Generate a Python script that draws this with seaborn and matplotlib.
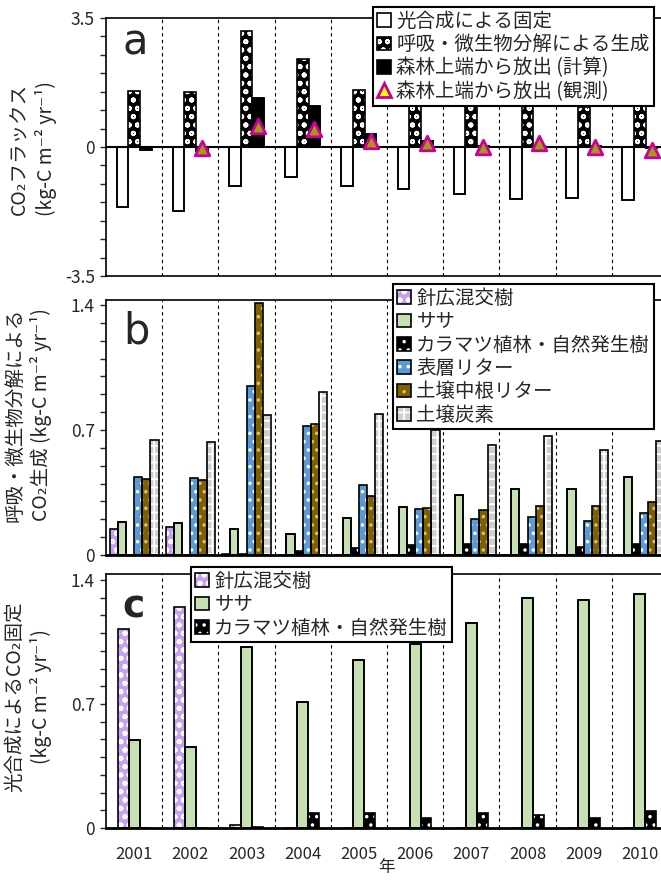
import numpy as np
import pandas as pd
import matplotlib
matplotlib.use('Agg')
import matplotlib.pyplot as plt
from matplotlib.patches import Patch, Rectangle
from matplotlib.lines import Line2D
from matplotlib.ticker import MultipleLocator, FixedLocator
import seaborn as sns

# 年
years = ['2001', '2002', '2003', '2004', '2005', '2006', '2007', '2008', '2009', '2010']

# a: CO2フラックス
photo_a = [-1.64, -1.73, -1.06, -0.81, -1.06, -1.13, -1.27, -1.41, -1.38, -1.45]
resp_a = [1.51, 1.49, 3.14, 2.39, 1.54, 1.29, 1.12, 1.22, 1.09, 1.22]
calc_a = [-0.07, -0.10, 1.33, 1.12, 0.36, 0.15, 0.02, 0.03, 0.02, -0.02]
obs_a = [np.nan, -0.04, 0.56, 0.50, 0.15, 0.10, 0.0, 0.10, 0.0, -0.07]
labels_a = ['光合成による固定', '呼吸・微生物分解による生成', '森林上端から放出 (計算)']
label_obs = '森林上端から放出 (観測)'

# b: 呼吸・微生物分解によるCO2生成
conifer_b = [0.146, 0.159, 0.005, 0, 0, 0, 0, 0, 0, 0]
sasa_b = [0.187, 0.177, 0.146, 0.116, 0.205, 0.267, 0.334, 0.371, 0.368, 0.439]
larch_b = [0, 0, 0.005, 0.022, 0.037, 0.056, 0.060, 0.060, 0.047, 0.060]
surface_b = [0.439, 0.433, 0.948, 0.722, 0.392, 0.258, 0.200, 0.211, 0.192, 0.235]
root_b = [0.424, 0.418, 1.410, 0.732, 0.330, 0.263, 0.250, 0.272, 0.272, 0.297]
soil_b = [0.646, 0.631, 0.782, 0.911, 0.791, 0.698, 0.618, 0.666, 0.588, 0.637]
labels_b = ['針広混交樹', 'ササ', 'カラマツ植林・自然発生樹', '表層リター', '土壌中根リター', '土壌炭素']

# c: 光合成によるCO2固定
conifer_c = [1.122, 1.250, 0.015, 0, 0, 0, 0, 0, 0, 0]
sasa_c = [0.496, 0.459, 1.020, 0.710, 0.951, 1.040, 1.160, 1.297, 1.288, 1.323]
larch_c = [0, 0, 0.004, 0.086, 0.083, 0.055, 0.083, 0.073, 0.055, 0.098]
labels_c = labels_b[:3]

sns.set_style('white')
plt.rcParams['font.family'] = ['Noto Sans CJK JP', 'DejaVu Sans']
plt.rcParams['hatch.linewidth'] = 1.3

# 各系列のスタイル (塗り, ハッチ, ハッチ色)
styles = {
    '光合成による固定': ('white', None, None),
    '呼吸・微生物分解による生成': ('black', 'oo', 'white'),
    '森林上端から放出 (計算)': ('black', None, None),
    '針広混交樹': ('#c7a0f2', 'oo', 'white'),
    'ササ': ('#c6e0b4', None, None),
    'カラマツ植林・自然発生樹': ('black', '..', 'white'),
    '表層リター': ('#5b9bd5', '..', 'white'),
    '土壌中根リター': ('#7f6000', '..', '#d9c06a'),
    '土壌炭素': ('#cfcfcf', '++', 'white'),
}


def long_df(series, labels):
    rows = []
    for vals, lab in zip(series, labels):
        for y, v in zip(years, vals):
            rows.append({'year': y, 'series': lab, 'value': v})
    return pd.DataFrame(rows)


def style_bars(ax, container, label):
    face, hatch, hcol = styles[label]
    for bar in container:
        bar.set_facecolor(face)
        if hatch:
            bar.set_hatch(hatch)
            bar.set_edgecolor(hcol)
            bar.set_linewidth(0)
        else:
            bar.set_edgecolor('black')
            bar.set_linewidth(1.2)
        ax.add_patch(Rectangle(bar.get_xy(), bar.get_width(), bar.get_height(),
                               fill=False, ec='black', lw=1.2, zorder=bar.get_zorder() + 0.1))


def handle(label):
    face, hatch, hcol = styles[label]
    if hatch:
        return (Patch(fc=face, hatch=hatch, ec=hcol, lw=0), Patch(fill=False, ec='black', lw=1.2))
    return Patch(fc=face, ec='black', lw=1.2)


def draw_panel(ax, series, labels, width):
    df = long_df(series, labels)
    sns.barplot(data=df, x='year', y='value', hue='series', hue_order=labels,
                width=width, ax=ax, legend=False, saturation=1, color='white')
    for cont, lab in zip(ax.containers, labels):
        style_bars(ax, cont, lab)
    for i in range(len(years) - 1):
        ax.axvline(i + 0.5, color='black', ls=(0, (3, 3)), lw=0.8, zorder=0)
    ax.set_xlim(-0.5, len(years) - 0.5)
    ax.set_xlabel('')
    ax.set_ylabel('')
    ax.tick_params(axis='x', length=0, labelsize=12, pad=13)
    ax.tick_params(axis='y', which='both', direction='out', length=4, width=1,
                   left=True, labelsize=12.5, pad=4)
    for s in ['left', 'top', 'bottom']:
        ax.spines[s].set_color('black')
        ax.spines[s].set_linewidth(1.2)
    ax.spines['right'].set_visible(False)


def legend_kw():
    return dict(frameon=True, fancybox=False, edgecolor='black', framealpha=1,
                fontsize=14, handlelength=0.7, handleheight=0.7, handletextpad=0.3,
                labelspacing=0.12, borderpad=0.2, borderaxespad=0)


fig = plt.figure(figsize=(6.61, 8.82), dpi=100)
W, H = 661, 882
AX_W = 562
ax_a = fig.add_axes([106 / W, 1 - 276 / H, AX_W / W, 258 / H])
ax_b = fig.add_axes([106 / W, 1 - 555 / H, AX_W / W, 255 / H])
ax_c = fig.add_axes([106 / W, 1 - 828 / H, AX_W / W, 254 / H])

# a
draw_panel(ax_a, [photo_a, resp_a, calc_a], labels_a, 0.62)
xs = [b.get_x() + b.get_width() / 2 for b in ax_a.containers[2]]
ax_a.scatter(xs, obs_a, marker='^', s=110, facecolor='#a39c10', edgecolor='#cc0099',
             linewidth=2, zorder=6)
ax_a.axhline(0, color='black', lw=1.5, zorder=5)
ax_a.set_ylim(-3.5, 3.5)
ax_a.yaxis.set_major_locator(FixedLocator([-3.5, 0, 3.5]))
ax_a.set_yticklabels(['-3.5', '0', '3.5'])
ax_a.yaxis.set_minor_locator(MultipleLocator(0.5))
ax_a.set_xticklabels([])
ax_a.text(0.03, 0.86, 'a', transform=ax_a.transAxes, fontsize=30, family='DejaVu Sans')
h_a = [handle(l) for l in labels_a] + [Line2D([], [], marker='^', ls='', mfc='yellow',
                                                mec='#cc0099', mew=2, ms=10)]
leg = ax_a.legend(h_a, labels_a + [label_obs], loc='upper left',
                  bbox_to_anchor=(373 / W, 1 - 7 / H), bbox_transform=fig.transFigure,
                  **legend_kw())
leg.get_frame().set_linewidth(1.5)

# b
draw_panel(ax_b, [conifer_b, sasa_b, larch_b, surface_b, root_b, soil_b], labels_b, 0.87)
ax_b.set_ylim(0, 1.428)
ax_b.yaxis.set_major_locator(FixedLocator([0, 0.7, 1.4]))
ax_b.set_yticklabels(['0', '0.7', '1.4'])
ax_b.yaxis.set_minor_locator(MultipleLocator(0.1))
ax_b.spines['bottom'].set_linewidth(2)
ax_b.set_xticklabels([])
ax_b.text(0.03, 0.83, 'b', transform=ax_b.transAxes, fontsize=30, family='DejaVu Sans')
leg = ax_b.legend([handle(l) for l in labels_b], labels_b, loc='upper left',
                  bbox_to_anchor=(393 / W, 1 - 284 / H), bbox_transform=fig.transFigure,
                  **legend_kw())
leg.get_frame().set_linewidth(1.5)

# c
draw_panel(ax_c, [conifer_c, sasa_c, larch_c], labels_c, 0.58)
ax_c.set_ylim(0, 1.434)
ax_c.yaxis.set_major_locator(FixedLocator([0, 0.7, 1.4]))
ax_c.set_yticklabels(['0', '0.7', '1.4'])
ax_c.yaxis.set_minor_locator(MultipleLocator(0.1))
ax_c.spines['bottom'].set_linewidth(2)
ax_c.set_xlabel('年', fontsize=12, labelpad=-3)
ax_c.text(0.03, 0.83, 'c', transform=ax_c.transAxes, fontsize=27, fontweight='bold',
          family='DejaVu Sans')
leg = ax_c.legend([handle(l) for l in labels_c], labels_c, loc='upper left',
                  bbox_to_anchor=(191 / W, 1 - 567 / H), bbox_transform=fig.transFigure,
                  **legend_kw())
leg.get_frame().set_linewidth(1.5)

# 縦軸ラベル
ylab_kw = dict(rotation=90, ha='center', va='center', multialignment='center',
               fontsize=14, linespacing=1.25)
fig.text(33 / W, 1 - 149 / H, 'CO₂フラックス\n(kg-C m⁻² yr⁻¹)', **ylab_kw)
fig.text(28 / W, 1 - 415 / H, '呼吸・微生物分解による\nCO₂生成 (kg-C m⁻² yr⁻¹)', **ylab_kw)
fig.text(28 / W, 1 - 697 / H, '光合成によるCO₂固定\n(kg-C m⁻² yr⁻¹)', **ylab_kw)

fig.savefig('out.png', dpi=100)
